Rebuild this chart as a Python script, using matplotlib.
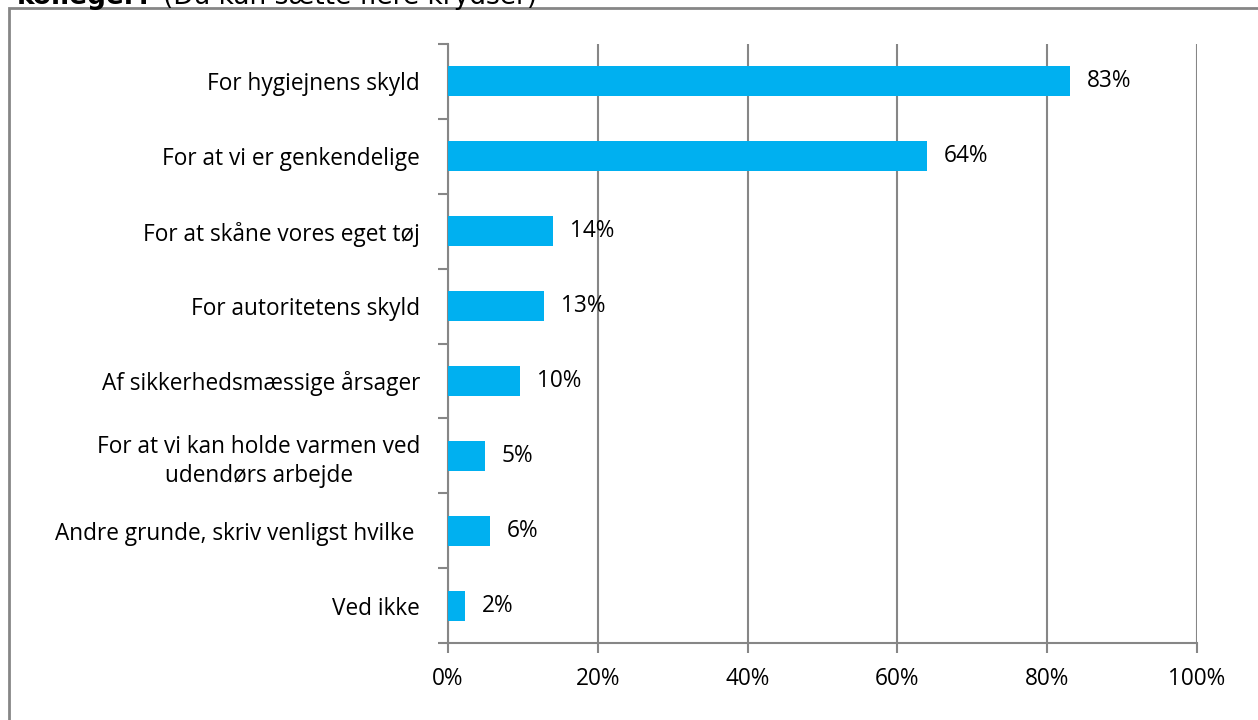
import matplotlib
matplotlib.use('Agg')
import matplotlib.pyplot as plt
from matplotlib.patches import Rectangle

categories = ['For hygiejnens skyld', 'For at vi er genkendelige',
              'For at skåne vores eget tøj', 'For autoritetens skyld',
              'Af sikkerhedsmæssige årsager',
              'For at vi kan holde varmen ved\nudendørs arbejde',
              'Andre grunde, skriv venligst hvilke ', 'Ved ikke']
values = [83.1, 63.9, 14.0, 12.8, 9.6, 4.9, 5.6, 2.3]
labels = ['83%', '64%', '14%', '13%', '10%', '5%', '6%', '2%']
xticks = [0, 20, 40, 60, 80, 100]

plt.rcParams['font.family'] = ['Open Sans', 'DejaVu Sans']
fs = 16.3

fig = plt.figure(figsize=(12.58, 7.2), dpi=100)
ax = fig.add_axes([448/1258, 77/720, 749/1258, 599/720])

grey = '#868686'
ypos = list(range(len(categories)))
ax.barh(ypos, values, height=0.4, color='#00B0F0', zorder=3)
for y, v, l in zip(ypos, values, labels):
    ax.annotate(l, (v, y), xytext=(12, 0), textcoords='offset points',
                va='center', ha='left', fontsize=fs, color='black')

ax.set_xlim(0, 100)
ax.set_ylim(len(categories) - 0.5, -0.5)
ax.set_xticks(xticks)
ax.set_xticklabels([f'{t}%' for t in xticks], fontsize=fs)
ax.set_yticks(ypos)
ax.set_yticklabels(categories, fontsize=fs, ha='right', multialignment='center',
                   linespacing=1.3)
ax.tick_params(axis='y', length=0, pad=20)
ax.set_yticks([i - 0.5 for i in range(len(categories) + 1)], minor=True)
ax.tick_params(axis='y', which='minor', length=7, color=grey, width=1.5)
ax.tick_params(axis='x', length=7, color=grey, width=1.5, pad=10)
ax.grid(axis='x', color=grey, linewidth=1.5, zorder=0)
for s in ['top', 'right']:
    ax.spines[s].set_visible(False)
for s in ['left', 'bottom']:
    ax.spines[s].set_color(grey)
    ax.spines[s].set_linewidth(1.5)

fig.patches.append(Rectangle((9/1258, -0.1), 1.2, 1.1 - 8/720,
                             transform=fig.transFigure, fill=False,
                             edgecolor=grey, linewidth=2))
fig.text(153/1258, 1 - 4/720, 'kolleger?', fontsize=19, fontweight='bold',
         family='DejaVu Sans', va='baseline', ha='right')
fig.text(163/1258, 1 - 4/720, '(Du kan sætte flere krydser)', fontsize=19,
         family='DejaVu Sans', va='baseline', ha='left')

fig.savefig('out.png', dpi=100)
